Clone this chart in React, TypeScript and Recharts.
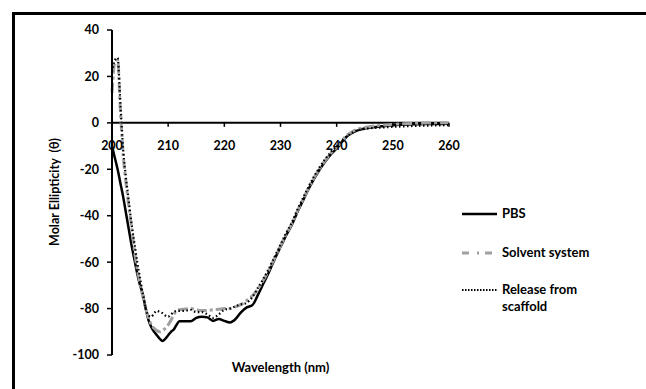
import { LineChart, Line, XAxis, YAxis, ReferenceLine } from "recharts";

const wavelengths = [
  200, 200.5, 201, 201.5, 202, 202.5, 203, 203.5, 204, 204.5, 205, 205.5, 206, 206.5, 207, 207.5,
  208, 208.5, 209, 209.5, 210, 210.5, 211, 211.5, 212, 213, 214, 215, 216, 217, 218, 219, 220, 221,
  222, 223, 224, 225, 226, 227, 228, 229, 230, 231, 232, 233, 234, 235, 236, 237, 238, 239, 240,
  241, 242, 243, 244, 245, 246, 248, 250, 252, 254, 256, 258, 260,
];

const pbs = [
  -10, -15, -20, -26, -32, -39, -46, -53, -59, -65, -70, -74, -80, -85, -88, -90,
  -91.5, -93, -94, -93, -91.5, -90, -89, -87, -85.5, -85.5, -85.5, -84, -83.5, -83.8, -85.3, -84.5, -85.3, -86,
  -84.5, -81.5, -79.5, -78.5, -74, -69, -64, -58.5, -53.5, -48.5, -44, -38.5, -33.5, -28.5, -24, -20, -16.5, -13.5, -11,
  -8, -5.5, -4, -3, -2.4, -2, -1.5, -1, -0.8, -0.6, -0.5, -0.5, -0.4,
];

const solvent = [
  13, 26, 27, 5, -14, -26, -36, -45, -55, -63, -69, -75, -80, -84, -87, -88.5,
  -89.5, -90, -89.5, -88.5, -87, -85, -82.5, -81, -80.5, -80.2, -80, -80.5, -80.8, -80.8, -80.5, -80.3, -80, -80,
  -79.2, -78.2, -76.5, -74.5, -71.5, -67.5, -63, -58, -53, -48, -43.5, -38, -33, -28, -23.5, -19.5, -16, -13, -10.5,
  -7.5, -5, -3.5, -2.5, -2, -1.6, -1.1, -0.7, -0.4, -0.2, -0.1, 0, -0.1,
];

const release = [
  22, 27, 28, 8, -12, -24, -34, -44, -52, -60, -67, -74, -80, -83, -83.5, -82,
  -81, -81.5, -82, -83, -83.5, -82.5, -81.5, -81, -81, -81, -80.5, -81.5, -81.5, -82.5, -84, -82.5, -80.5, -80,
  -79, -78.2, -77.5, -75, -71, -67, -62.5, -57.5, -52.5, -47.5, -43, -37.5, -32.5, -27.5, -23, -19, -15.5, -12.5, -10,
  -7.5, -5.5, -4, -3, -2.6, -2.3, -2, -1.7, -1.5, -1.3, -1.2, -1.1, -1,
];

const xTicks = [200, 210, 220, 230, 240, 250, 260];
const yTicks = [-100, -80, -60, -40, -20, 0, 20, 40];

const data = wavelengths.map((w, i) => ({
  w,
  pbs: pbs[i],
  solvent: solvent[i],
  release: release[i],
}));

const W = 646;
const H = 389;
const margin = { top: 30, right: 197, bottom: 4, left: 52 };
const X_AXIS_H = 30;
const Y_MIN = -100;
const Y_MAX = 40;
const plotH = H - margin.top - margin.bottom - X_AXIS_H;
// distance from the plot bottom up to the value 0
const zeroShift = (plotH * (0 - Y_MIN)) / (Y_MAX - Y_MIN);

const font = "Lato, 'Open Sans', sans-serif";

const XTick = (props: any) => {
  const { x, y, payload } = props;
  return (
    <g transform={`translate(${x},${y - zeroShift})`}>
      <line x1={0} x2={0} y1={0} y2={4} stroke="#000" strokeWidth={1.5} />
      <text
        x={0}
        y={27}
        textAnchor="middle"
        fontFamily={font}
        fontWeight={700}
        fontSize={12.5}
        fill="#000"
      >
        {payload.value}
      </text>
    </g>
  );
};

const legendItems = [
  { label: ["PBS"], stroke: "#000", dash: undefined, width: 2.5, top: 214 },
  { label: ["Solvent system"], stroke: "#a0a0a0", dash: "7 8 2 6", width: 3, top: 253 },
  { label: ["Release from", "scaffold"], stroke: "#000", dash: "1.5 1.5", width: 1.8, top: 290 },
];

export default function App() {
  return (
    <div
      style={{
        position: "absolute",
        left: 0,
        top: 0,
        width: W,
        height: H,
        overflow: "hidden",
        background: "#fff",
        fontFamily: font,
      }}
    >
      <div
        style={{
          position: "absolute",
          left: 12,
          top: 12,
          width: 800,
          height: 600,
          border: "3px solid #000",
        }}
      />
      <LineChart width={W} height={H} data={data} margin={margin} style={{ position: "absolute", left: 0, top: 0 }}>
        <XAxis
          dataKey="w"
          type="number"
          domain={[200, 260]}
          ticks={xTicks}
          height={X_AXIS_H}
          axisLine={false}
          tickLine={false}
          tickSize={0}
          tickMargin={0}
          tick={<XTick />}
          interval={0}
          label={{
            value: "Wavelength (nm)",
            position: "insideBottom",
            offset: 13,
            fontFamily: font,
            fontWeight: 700,
            fontSize: 13,
            fill: "#000",
          }}
        />
        <YAxis
          domain={[Y_MIN, Y_MAX]}
          ticks={yTicks}
          width={60}
          interval={0}
          axisLine={{ stroke: "#000", strokeWidth: 2 }}
          tickLine={{ stroke: "#000", strokeWidth: 1.5 }}
          tickSize={5}
          tickMargin={8}
          tick={{ fontFamily: font, fontWeight: 700, fontSize: 12.5, fill: "#000" }}
        />
        <ReferenceLine y={0} stroke="#000" strokeWidth={2} />
        <Line
          dataKey="pbs"
          type="monotone"
          stroke="#000"
          strokeWidth={2.5}
          dot={false}
          isAnimationActive={false}
        />
        <Line
          dataKey="solvent"
          type="monotone"
          stroke="#a0a0a0"
          strokeWidth={3}
          strokeDasharray="10 3 3 3"
          dot={false}
          isAnimationActive={false}
        />
        <Line
          dataKey="release"
          type="monotone"
          stroke="#000"
          strokeWidth={2.2}
          strokeDasharray="1.5 2.5"
          dot={false}
          isAnimationActive={false}
        />
      </LineChart>
      <div
        style={{
          position: "absolute",
          left: 54,
          top: 192,
          transform: "translate(-50%, -50%) rotate(-90deg)",
          whiteSpace: "nowrap",
          fontWeight: 700,
          fontSize: 12.5,
        }}
      >
        Molar Ellipticity&nbsp;&nbsp;(θ)
      </div>
      {legendItems.map((item) => (
        <div key={item.label[0]}>
          <svg
            width={36}
            height={6}
            style={{ position: "absolute", left: 462, top: item.top - 3 }}
          >
            <line
              x1={0}
              x2={35}
              y1={3}
              y2={3}
              stroke={item.stroke}
              strokeWidth={item.width}
              strokeDasharray={item.dash}
            />
          </svg>
          <div
            style={{
              position: "absolute",
              left: 502,
              top: item.top - 9,
              fontWeight: 700,
              fontSize: 13,
              lineHeight: "17px",
              whiteSpace: "nowrap",
            }}
          >
            {item.label.map((l) => (
              <div key={l}>{l}</div>
            ))}
          </div>
        </div>
      ))}
    </div>
  );
}
